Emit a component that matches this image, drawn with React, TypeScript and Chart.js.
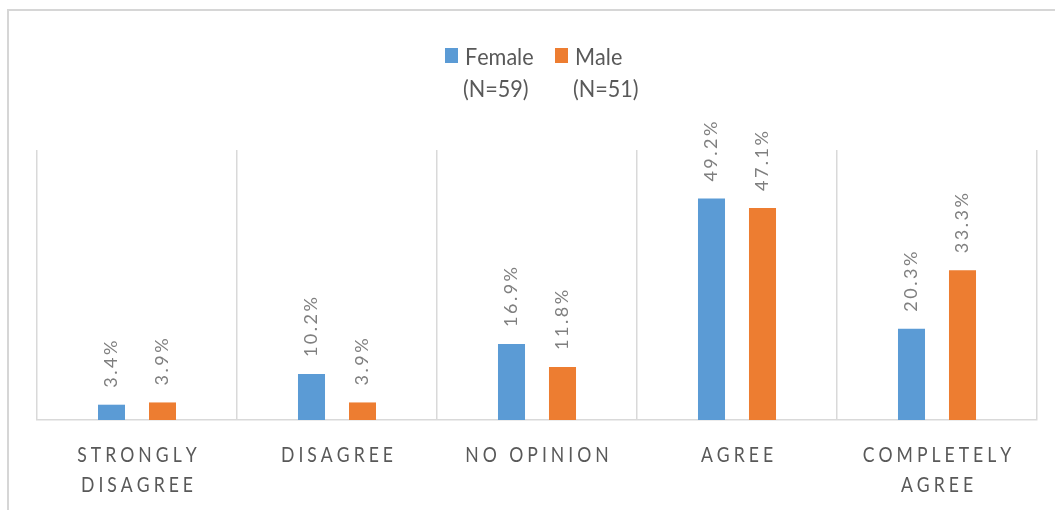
import React, { useEffect, useRef } from "react";
import { Chart, registerables } from "chart.js";

Chart.register(...registerables);

// ---- data ----
const categoryLines: string[][] = [
  ["STRONGLY", "DISAGREE"],
  ["DISAGREE"],
  ["NO OPINION"],
  ["AGREE"],
  ["COMPLETELY", "AGREE"],
];
const femaleValues = [3.4, 10.2, 16.9, 49.2, 20.3];
const maleValues = [3.9, 3.9, 11.8, 47.1, 33.3];
const seriesNames = ["Female", "Male"];
const seriesSubtitles = ["(N=59)", "(N=51)"];
const seriesColors = ["#5B9BD5", "#ED7D31"];
const yMin = 0;
const yMax = 60;

const FONT = "Lato, 'Open Sans', 'Liberation Sans', sans-serif";

type TextOpts = {
  size: number;
  color: string;
  spacing: number;
  scaleX: number;
  align: "left" | "center";
  baseline?: CanvasTextBaseline;
};

function drawSpaced(
  ctx: CanvasRenderingContext2D,
  text: string,
  x: number,
  y: number,
  o: TextOpts,
  rotate = 0
) {
  ctx.save();
  ctx.translate(x, y);
  if (rotate) ctx.rotate(rotate);
  ctx.scale(o.scaleX, 1);
  ctx.font = `${o.size}px ${FONT}`;
  ctx.fillStyle = o.color;
  ctx.textAlign = "left";
  ctx.textBaseline = o.baseline || "alphabetic";
  const chars = Array.from(text);
  const widths = chars.map((c) => ctx.measureText(c).width);
  const sp = o.spacing / o.scaleX;
  const total = widths.reduce((a, b) => a + b, 0) + sp * (chars.length - 1);
  let cx = o.align === "center" ? -total / 2 : 0;
  chars.forEach((c, i) => {
    ctx.fillText(c, cx, 0);
    cx += widths[i] + sp;
  });
  ctx.restore();
}

const customDraw = {
  id: "customDraw",
  afterDraw(chart: any) {
    const ctx: CanvasRenderingContext2D = chart.ctx;
    const area = chart.chartArea;

    // outer frame (top + left)
    ctx.save();
    ctx.strokeStyle = "#d6d6d6";
    ctx.lineWidth = 2;
    ctx.beginPath();
    ctx.moveTo(8, chart.height);
    ctx.lineTo(8, 10);
    ctx.lineTo(chart.width, 10);
    ctx.stroke();
    ctx.restore();

    // legend
    const legendStarts = [445, 555];
    seriesNames.forEach((name, i) => {
      const lx = legendStarts[i];
      ctx.fillStyle = seriesColors[i];
      ctx.fillRect(lx, 48, 13, 15);
      const to: TextOpts = { size: 24, color: "#595959", spacing: 0, scaleX: 0.9, align: "left" };
      drawSpaced(ctx, name, lx + 20, 65, to);
      drawSpaced(ctx, seriesSubtitles[i], lx + 18, 97, to);
    });

    // x category labels
    const xScale = chart.scales.x;
    categoryLines.forEach((lines, i) => {
      const cx = xScale.getPixelForValue(i);
      lines.forEach((line, k) => {
        drawSpaced(ctx, line, cx, 462 + k * 30, {
          size: 22,
          color: "#595959",
          spacing: 4,
          scaleX: 0.8,
          align: "center",
        });
      });
    });

    // data labels (rotated)
    chart.data.datasets.forEach((ds: any, di: number) => {
      const meta = chart.getDatasetMeta(di);
      meta.data.forEach((bar: any, j: number) => {
        const v = ds.data[j];
        drawSpaced(
          ctx,
          `${v.toFixed(1)}%`,
          bar.x,
          bar.y - 17,
          { size: 18, color: "#7f7f7f", spacing: 2.5, scaleX: 1, align: "left", baseline: "middle" },
          -Math.PI / 2
        );
      });
    });
  },
};

export default function App() {
  const ref = useRef<HTMLCanvasElement | null>(null);
  useEffect(() => {
    if (!ref.current) return;
    const chart = new Chart(ref.current, {
      type: "bar",
      data: {
        labels: categoryLines.map((l) => l.join(" ")),
        datasets: [
          {
            label: seriesNames[0],
            data: femaleValues,
            backgroundColor: seriesColors[0],
            categoryPercentage: 0.51,
            barPercentage: 0.53,
          },
          {
            label: seriesNames[1],
            data: maleValues,
            backgroundColor: seriesColors[1],
            categoryPercentage: 0.51,
            barPercentage: 0.53,
          },
        ],
      },
      options: {
        responsive: false,
        animation: false,
        layout: { padding: { top: 150, left: 37, right: 18, bottom: 0 } },
        plugins: {
          legend: { display: false },
          tooltip: { enabled: false },
          title: { display: false },
        },
        scales: {
          x: {
            grid: {
              display: true,
              color: "#d9d9d9",
              lineWidth: 1.5,
              drawTicks: false,
              offset: true,
            },
            border: { display: true, color: "#d9d9d9", width: 1.5 },
            ticks: { display: false },
            afterFit: (scale: any) => {
              scale.height = 90;
            },
          },
          y: {
            display: false,
            min: yMin,
            max: yMax,
          },
        },
      },
      plugins: [customDraw],
    });
    return () => chart.destroy();
  }, []);
  return (
    <div style={{ position: "fixed", left: 0, top: 0, width: 1055, height: 510, background: "#fff" }}>
      <canvas ref={ref} width={1055} height={510} style={{ width: 1055, height: 510 }} />
    </div>
  );
}
